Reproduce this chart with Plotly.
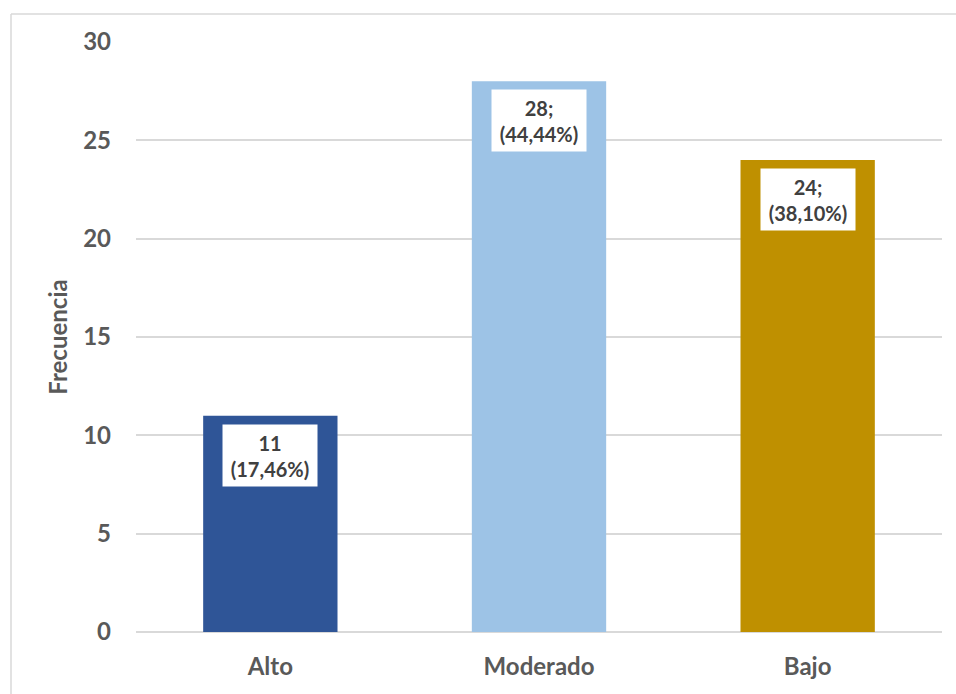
import plotly.graph_objects as go

categories = ["Alto", "Moderado", "Bajo"]
frequencies = [11, 28, 24]
label_texts = ["11<br>(17,46%)", "28;<br>(44,44%)", "24;<br>(38,10%)"]
bar_colors = ["#2F5597", "#9DC3E6", "#BF9000"]
y_ticks = [0, 5, 10, 15, 20, 25, 30]

W, H = 956, 694
ML, MR, MT, MB = 136, 14, 42, 62
pw, ph = W - ML - MR, H - MT - MB
FONT = "Lato, Calibri, sans-serif"

def px_x(p):
    return (p - ML) / pw

def px_y(p):
    return 1 - (p - MT) / ph

fig = go.Figure(
    go.Bar(
        x=categories,
        y=frequencies,
        marker=dict(color=bar_colors, line=dict(width=0)),
        width=0.5,
        hoverinfo="x+y",
    )
)

# white value boxes inside the top of each bar
for cat, val, txt in zip(categories, frequencies, label_texts):
    fig.add_annotation(
        x=cat, y=val, text="<b>" + txt.replace("<br>", "</b><br><b>") + "</b>",
        showarrow=False,
        xanchor="center", yanchor="top", yshift=-8,
        bgcolor="white", borderpad=0, width=94, height=61,
        font=dict(family=FONT, size=20, color="#404040"),
    )

# outer chart frame (left and top edges)
frame = dict(color="#D9D9D9", width=1.5)
fig.add_shape(type="line", xref="paper", yref="paper",
              x0=px_x(11), x1=px_x(11), y0=px_y(14), y1=px_y(700), line=frame)
fig.add_shape(type="line", xref="paper", yref="paper",
              x0=px_x(11), x1=px_x(960), y0=px_y(14), y1=px_y(14), line=frame)

tick_font = dict(family=FONT, size=24, color="#595959", weight="bold")

fig.update_layout(
    width=W, height=H,
    margin=dict(l=ML, r=MR, t=MT, b=MB, pad=0),
    paper_bgcolor="white", plot_bgcolor="white",
    showlegend=False,
    bargap=0.5,
    xaxis=dict(
        tickfont=tick_font, showgrid=False, zeroline=False,
        showline=False, ticks="", ticklabelstandoff=18,
    ),
    yaxis=dict(
        range=[0, 30], tickvals=y_ticks, tickfont=tick_font,
        showgrid=True, gridcolor="#D9D9D9", gridwidth=1.5,
        zeroline=True, zerolinecolor="#D9D9D9", zerolinewidth=1.5,
        showline=False, ticks="", ticklabelstandoff=24,
        title=dict(text="<b>Frecuencia</b>", standoff=8,
                   font=dict(family=FONT, size=24, color="#595959")),
    ),
)

fig.write_html("out.html")
